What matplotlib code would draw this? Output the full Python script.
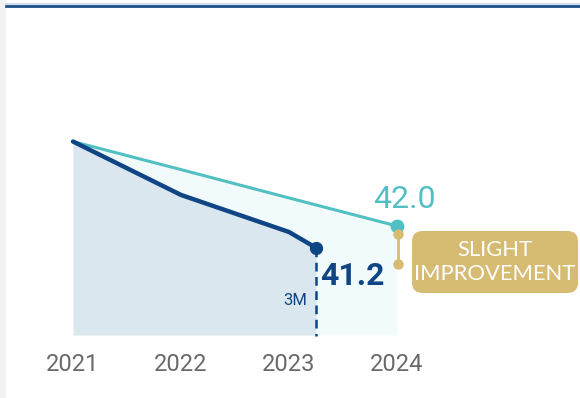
import matplotlib
matplotlib.use("Agg")
import matplotlib.pyplot as plt
from matplotlib.patches import FancyBboxPatch, Rectangle
from matplotlib.lines import Line2D

# Data
years = [2021, 2022, 2023, 2024]
year_labels = ["2021", "2022", "2023", "2024"]
target_x = [2021, 2022, 2023, 2024]
target_y = [45.1, 44.07, 43.03, 42.0]
actual_x = [2021, 2022, 2023, 2023.25]
actual_y = [45.1, 43.14, 41.78, 41.2]
target_label = "42.0"
actual_label = "41.2"
period_label = "3M"
badge_text = "SLIGHT\nIMPROVEMENT"

DARK = "#0f4585"
TEAL = "#52c0c3"
GOLD = "#d6bb72"
DARK_FILL = "#dbe7ef"
TEAL_FILL = "#f2fbfb"
TICK_GRAY = "#6a6a6a"

W, H = 580, 398
fig = plt.figure(figsize=(W / 100, H / 100), dpi=100)
fig.patch.set_facecolor("white")

# Page chrome: grey side strip and rule across the top
fig.add_artist(Rectangle((0, 0), 6 / W, 1, transform=fig.transFigure,
                         facecolor="#f2f2f2", edgecolor="none", zorder=0))
fig.add_artist(Line2D([6 / W, 1], [1 - 4 / H, 1 - 4 / H], transform=fig.transFigure,
                      color="#c9d6e6", lw=1.2, zorder=1))
fig.add_artist(Line2D([6 / W, 1], [1 - 5.5 / H, 1 - 5.5 / H], transform=fig.transFigure,
                      color="#1d4f8a", lw=2.0, zorder=1))

# Axes: bottom edge at the baseline of the filled areas
px_per_year = 108.0
x0_px = 73.0
y_base_px = 335.0
px_per_unit = 27.25
y_base = 38.0

ax_left = 6 / W
ax_bottom = (H - y_base_px) / H
ax_top = 1 - 12 / H
ax = fig.add_axes([ax_left, ax_bottom, 1 - ax_left, ax_top - ax_bottom])
ax.set_xlim(2021 - (x0_px - 6) / px_per_year, 2021 + (W - x0_px) / px_per_year)
ax.set_ylim(y_base, y_base + (y_base_px - 12) / px_per_unit)
ax.set_facecolor("none")
for s in ax.spines.values():
    s.set_visible(False)
ax.set_yticks([])
ax.set_xticks(years)
ax.set_xticklabels(year_labels, fontsize=17, color=TICK_GRAY, fontfamily="Roboto")
ax.tick_params(axis="x", length=0, pad=13)

# Filled areas
ax.fill_between(target_x, target_y, y_base, color=TEAL_FILL, lw=0, zorder=1)
ax.fill_between(actual_x, actual_y, y_base, color=DARK_FILL, lw=0, zorder=2)

# Lines
ax.plot(target_x, target_y, color=TEAL, lw=2.2, solid_capstyle="round", zorder=3)
ax.plot(actual_x, actual_y, color=DARK, lw=3.2, solid_capstyle="round",
        solid_joinstyle="round", zorder=4)

# End markers
ax.plot([target_x[-1]], [target_y[-1]], "o", ms=9, color=TEAL, zorder=6)
ax.plot([actual_x[-1]], [actual_y[-1]], "o", ms=8.5, color=DARK, zorder=6)

# Dashed drop line from the latest actual value
ax.plot([actual_x[-1], actual_x[-1]], [actual_y[-1], y_base - 0.05], color=DARK,
        lw=1.8, ls=(0, (3.5, 2.2)), zorder=5, clip_on=False)

# Value labels
ax.text(target_x[-1] + 0.07, target_y[-1] + 0.98, target_label, color=TEAL,
        fontsize=23, fontfamily="Roboto", ha="center", va="center", zorder=7)
ax.text(actual_x[-1] + 0.04, actual_y[-1] - 1.05, actual_label, color=DARK,
        fontsize=23, fontweight="bold", fontfamily="Roboto", ha="left", va="center",
        zorder=7)
ax.text(actual_x[-1] - 0.08, y_base + 1.28, period_label, color=DARK,
        fontsize=12, fontfamily="Roboto", ha="right", va="center", zorder=7)

# Gap bracket between target and actual
bx = target_x[-1] + 0.01
ytop = target_y[-1] - 0.28
ybot = target_y[-1] - 1.38
ax.plot([bx, bx], [ytop, ybot], color=GOLD, lw=2, zorder=6)
ax.plot([bx, bx], [ytop, ybot], "o", ms=6.5, color=GOLD, zorder=6)

# Badge
bx0, bx1 = 412, 578
by0, by1 = 231, 293
badge = FancyBboxPatch((bx0 / W, 1 - by1 / H), (bx1 - bx0) / W, (by1 - by0) / H,
                       boxstyle="round,pad=0,rounding_size=0.018",
                       transform=fig.transFigure, facecolor=GOLD, edgecolor="none",
                       zorder=8, mutation_aspect=W / H)
fig.add_artist(badge)
fig.text((bx0 + bx1) / 2 / W, 1 - (by0 + by1) / 2 / H, badge_text, color="white",
         fontsize=15.8, fontfamily="Lato", ha="center", va="center",
         linespacing=1.25, zorder=9)

fig.savefig("out.png", dpi=100, facecolor="white")
